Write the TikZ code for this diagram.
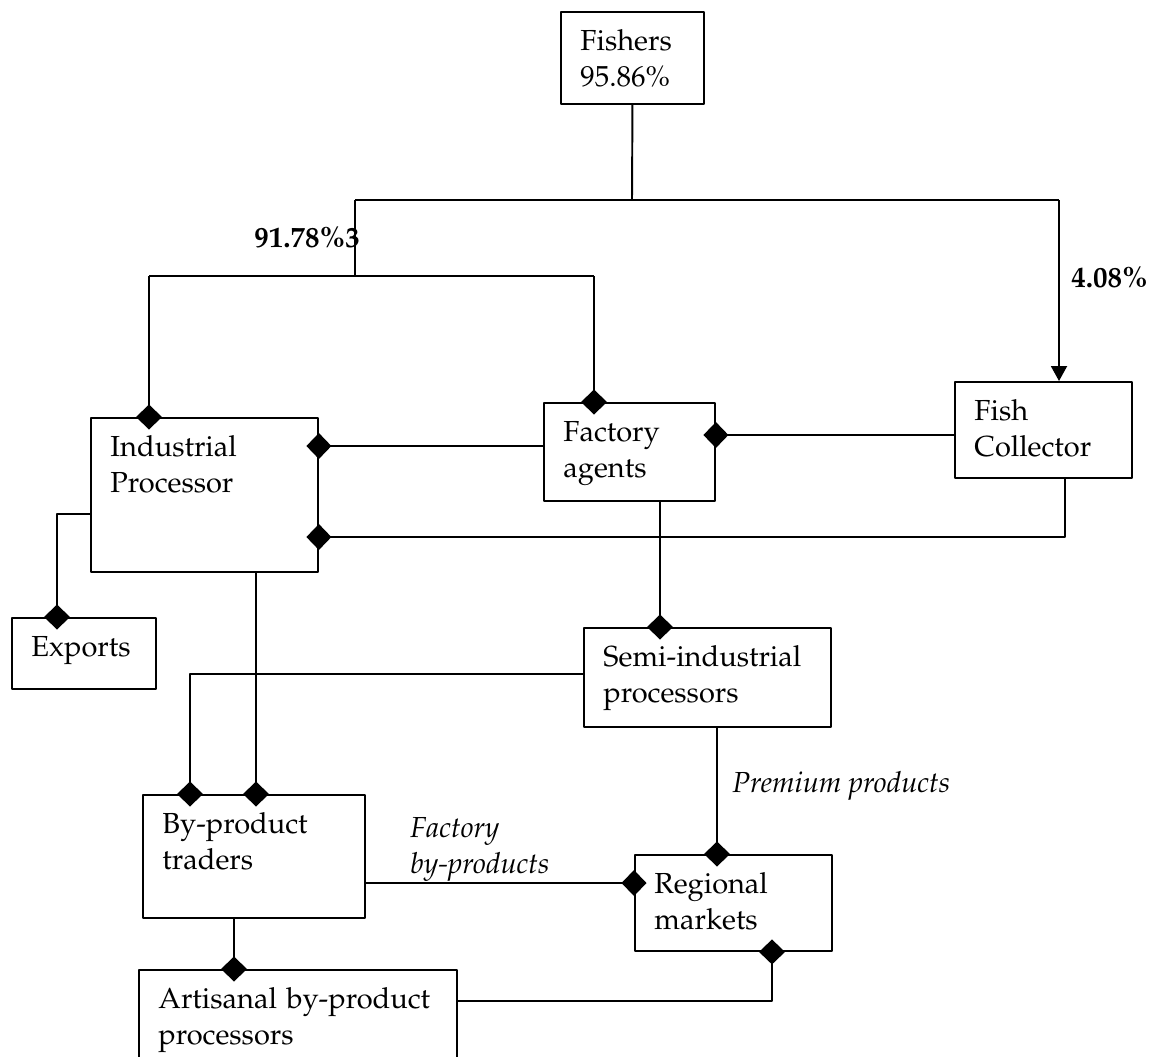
\documentclass[tikz,border=0pt]{standalone}
\usepackage[T1]{fontenc}
\usepackage{mathpazo}
\usetikzlibrary{arrows.meta}

\tikzset{
  unit/.style={draw,line width=1.1pt,anchor=north west,align=left,
    inner xsep=0.39cm,inner ysep=0pt,text height=0.77cm},
  link/.style={line width=1.1pt},
  dia/.style={-{Diamond[length=0.5cm,width=0.52cm]},shorten >=-0.25cm},
  share/.style={font=\fontsize{16.5}{20}\selectfont\bfseries,anchor=base west,inner sep=0pt},
  flow/.style={font=\fontsize{16.5}{20}\selectfont\itshape,anchor=base west,inner sep=0pt,align=left},
}

\begin{document}
\begin{tikzpicture}[x=0.02cm,y=-0.02cm,font=\fontsize{16.5}{20.5}\selectfont,line join=round]
\useasboundingbox (0,0) rectangle (1152,1056);
% actors
\node[unit,text width=2.08cm,text depth=1.07cm] (fishers) at (560,11) {Fishers\\95.86\%};
\node[unit,text width=3.76cm,text depth=2.31cm] (ip) at (90,417) {Industrial\\Processor};
\node[unit,text width=2.64cm,text depth=1.19cm] (fa) at (543,402) {Factory\\agents};
\node[unit,text width=2.76cm,text depth=1.15cm] (fc) at (954,381) {Fish\\Collector};
\node[unit,text width=2.10cm,text depth=0.65cm] (ex) at (11,617) {Exports};
\node[unit,text width=4.16cm,text depth=1.21cm] (sip) at (583,627) {Semi-industrial\\processors};
\node[unit,text width=3.66cm,text depth=1.69cm] (bpt) at (142,794) {By-product\\traders};
\node[unit,text width=3.16cm,text depth=1.15cm] (rm) at (634,854) {Regional\\markets};
\node[unit,text width=5.58cm,text depth=1.63cm] (abp) at (138,969) {Artisanal~by-product\\processors};
% branch points
\coordinate (split) at (632,200);
\coordinate (lsplit) at (355,200);
\coordinate (rsplit) at (1059,200);
\coordinate (lbar) at (355,276);
\coordinate (ipin) at (149,276);
\coordinate (fain) at (594,276);
\coordinate (faip) at (0,446);
\coordinate (fcfa) at (0,435);
\coordinate (fcip) at (1065,537);
\coordinate (exl) at (57,514);
\coordinate (fasip) at (660,0);
\coordinate (sipl) at (190,674);
\coordinate (ipbpt) at (256,0);
\coordinate (bptrm) at (0,883);
\coordinate (siprm) at (717,0);
\coordinate (bptabp) at (234,0);
\coordinate (abpl) at (772,1001);
% flows
\draw[link] (fishers.south) -- (split);
\draw[link] (lsplit) -- (rsplit);
\draw[link,-{Triangle[length=0.3cm,width=0.32cm]}] (rsplit) -- (rsplit |- fc.north);
\draw[link] (lsplit) -- (lbar);
\draw[link] (ipin) -- (fain);
\draw[link,dia] (ipin) -- (ipin |- ip.north);
\draw[link,dia] (fain) -- (fain |- fa.north);
\draw[link,dia] (fa.west |- faip) -- (ip.east |- faip);
\draw[link,dia] (fc.west |- fcfa) -- (fa.east |- fcfa);
\draw[link,dia] (fcip |- fc.south) |- (ip.east |- fcip);
\draw[link,dia] (ip.west |- exl) -| (exl |- ex.north);
\draw[link,dia] (fasip |- fa.south) -- (fasip |- sip.north);
\draw[link,dia] (sip.west |- sipl) -| (sipl |- bpt.north);
\draw[link,dia] (ipbpt |- ip.south) -- (ipbpt |- bpt.north);
\draw[link,dia] (bpt.east |- bptrm) -- (rm.west |- bptrm);
\draw[link,dia] (siprm |- sip.south) -- (siprm |- rm.north);
\draw[link,dia] (bptabp |- bpt.south) -- (bptabp |- abp.north);
\draw[link,dia] (abp.east |- abpl) -| (abpl |- rm.south);
% labels
\node[share] (lshare) at (254,247) {91.78\%3};
\node[share] (rshare) at (1071,287) {4.08\%};
\node[flow] (premium) at (732,792) {Premium products};
\node[flow] (byprod) at (410,873) {Factory\\by-products};
\end{tikzpicture}
\end{document}
